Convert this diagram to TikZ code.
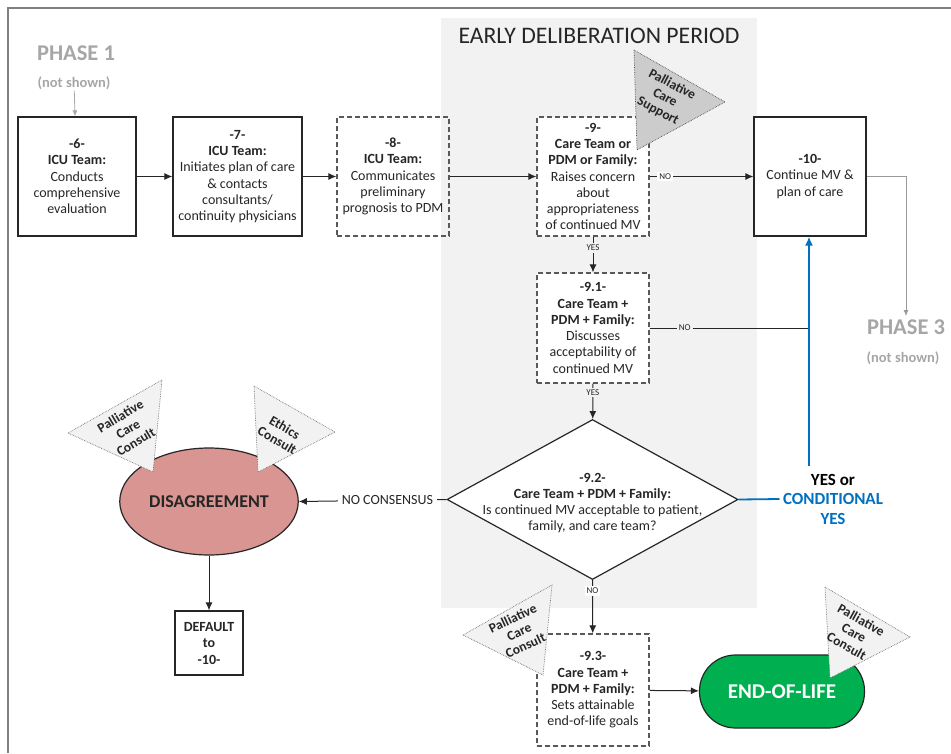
\documentclass[tikz,border=0pt]{standalone}
\usepackage{fontspec}
\setmainfont{Carlito}
\usepackage{tikz}
\usetikzlibrary{shapes.geometric, arrows.meta}
\definecolor{bgray}{HTML}{F2F2F2}
\definecolor{txt}{HTML}{262626}
\definecolor{phgray}{HTML}{A6A6A6}
\definecolor{mvblue}{HTML}{0070C0}
\definecolor{eolgreen}{HTML}{00B050}
\definecolor{disrose}{HTML}{D99591}
\tikzstyle{stepbox}=[draw=txt, line width=1.2pt, rectangle, align=center, text=txt, font=\fontsize{14}{16.3}\selectfont, minimum width=112pt, minimum height=119pt, inner sep=2pt]
\tikzstyle{dashbox}=[stepbox, draw=black!65, dash pattern=on 5pt off 3pt]
\tikzstyle{arr}=[line width=1pt, draw=txt, -{Latex[length=8pt,width=7pt]}]
\tikzstyle{lbl}=[font=\fontsize{9}{10}\selectfont, text=txt, inner sep=2pt]
\tikzstyle{tri}=[fill=bgray, draw=black!55, densely dotted, line width=0.7pt]
\tikzstyle{tritext}=[font=\bfseries\fontsize{13.5}{15}\selectfont, align=center, text=txt, inner sep=0pt]

\begin{document}
\begin{tikzpicture}[x=1pt, y=-1pt]
        \useasboundingbox (0,0) rectangle (951,753);
        \draw[line width=2pt, draw=black!50] (8,753) -- (8,8) -- (951,8);
        \fill[bgray] (441,18) rectangle (757,608);
        \node[text=txt, font=\fontsize{23.7}{26}\selectfont] (title) at (599,36) {EARLY DELIBERATION PERIOD};

        \node[text=phgray, font=\bfseries\fontsize{22.5}{24}\selectfont] (p1) at (76,53) {PHASE 1};
        \node[text=phgray, font=\bfseries\fontsize{14.5}{16}\selectfont, inner sep=1pt] (p1note) at (74,83) {(not shown)};
        \node[text=phgray, font=\bfseries\fontsize{22.5}{24}\selectfont] (p3) at (906,327) {PHASE 3};
        \node[text=phgray, font=\bfseries\fontsize{14.5}{16}\selectfont] (p3note) at (903,358) {(not shown)};

        \node[stepbox, minimum width=118pt] (b6) at (77,176.5) {\textbf{-6-}\\\textbf{ICU Team:}\\Conducts\\comprehensive\\evaluation};
        \node[stepbox, minimum width=129pt] (b7) at (237.5,176.5) {\textbf{-7-}\\\textbf{ICU Team:}\\Initiates plan of care\\\& contacts\\consultants/\\continuity physicians};
        \node[dashbox] (b8) at (393,176.5) {\textbf{-8-}\\\textbf{ICU Team:}\\Communicates\\preliminary\\prognosis to PDM};
        \node[dashbox, fill=white] (b9) at (593,176.5) {\textbf{-9-}\\\textbf{Care Team or}\\\textbf{PDM or Family:}\\Raises concern\\about\\appropriateness\\of continued MV};
        \node[stepbox, fill=white] (b10) at (810,176.5) {\textbf{-10-}\\Continue MV \&\\plan of care};
        \node[dashbox, fill=white, minimum height=110pt] (b91) at (593,328) {\textbf{-9.1-}\\\textbf{Care Team +}\\\textbf{PDM + Family:}\\Discusses\\acceptability of\\continued MV};
        \node[draw=txt, line width=1.2pt, fill=white, diamond, minimum width=291pt, minimum height=160pt, inner sep=0pt] (d) at (592.5,499.5) {};
        \node[align=center, text=txt, font=\fontsize{14}{16.3}\selectfont] (dtext) at (592.5,503) {\textbf{-9.2-}\\\textbf{Care Team + PDM + Family:}\\Is continued MV acceptable to patient,\\family, and care team?};
        \node[dashbox, fill=white, minimum height=112pt] (b93) at (593,690) {\textbf{-9.3-}\\\textbf{Care Team +}\\\textbf{PDM + Family:}\\Sets attainable\\end-of-life goals};

        \node[ellipse, draw=txt, line width=1.2pt, fill=disrose, minimum width=158pt, minimum height=107pt, text=txt, font=\bfseries\fontsize{18}{20}\selectfont] (dis) at (209,501.5) {DISAGREEMENT};
        \node[stepbox, minimum width=68pt, minimum height=64pt, font=\bfseries\fontsize{14}{16.5}\selectfont] (def) at (209,643) {DEFAULT\\to\\-10-};
        \node[rectangle, rounded corners=36pt, draw=txt, line width=1.2pt, fill=eolgreen, minimum width=165pt, minimum height=73pt, text=white, font=\bfseries\fontsize{21}{23}\selectfont] (eol) at (782,691.5) {END-OF-LIFE};

        \node[align=center, font=\bfseries\fontsize{17}{19.5}\selectfont] (cy) at (833,499) {YES or\\\textcolor{mvblue}{CONDITIONAL}\\\textcolor{mvblue}{YES}};
        \coordinate (cytop) at (809,466);
        \coordinate (j91) at (809,328);

        \draw[fill=black!20, draw=black!70, densely dotted, line width=0.7pt] (634,50) -- (725,102) -- (637,150) -- cycle;
        \node[tritext, rotate=-28] (supp) at (665,98) {Palliative\\Care\\Support};
        \draw[tri] (68,433) -- (162,380) -- (153,472) -- cycle;
        \node[tritext, rotate=31] (pc1) at (128,429) {Palliative\\Care\\Consult};
        \draw[tri] (254,386) -- (335,432) -- (258,472) -- cycle;
        \node[tritext, rotate=-30] (eth) at (281,434) {Ethics\\Consult};
        \draw[tri] (463,635) -- (552,585) -- (543,675) -- cycle;
        \node[tritext, rotate=25] (pc2) at (519,632) {Palliative\\Care\\Consult};
        \draw[tri] (825,587) -- (910,637) -- (830,678) -- cycle;
        \node[tritext, rotate=-29] (pc3) at (854,633) {Palliative\\Care\\Consult};

        \draw[phgray, line width=0.8pt, -{Latex[length=6pt,width=5pt]}] (p1note) -- (b6);
        \draw[black!40, line width=0.8pt, -{Latex[length=6pt,width=5pt]}] (b10.east) -| (p3.north);
        \draw[arr] (b6) -- (b7);
        \draw[arr] (b7) -- (b8);
        \draw[arr] (b8) -- (b9);
        \draw[arr] (b9) -- node[lbl, fill=white, pos=0.15] {NO} (b10);
        \draw[arr] (b9) -- node[lbl, fill=bgray, pos=0.32] {YES} (b91);
        \draw[arr] (b91) -- node[lbl, fill=bgray, pos=0.25] {YES} (d);
        \draw[line width=1pt, draw=txt] (b91) -- node[lbl, fill=bgray, pos=0.22] {NO} (j91);
        \draw[line width=1.8pt, mvblue, -{Latex[length=9pt,width=8pt]}] (cytop) -- (cytop |- b10.south);
        \draw[line width=1.8pt, mvblue] (d.east) -- (cy.west);
        \draw[arr] (d.west) -- node[fill=white, text=txt, font=\fontsize{14}{16}\selectfont, pos=0.40, inner sep=4pt] {NO CONSENSUS} (dis.east);
        \draw[arr] (dis) -- (def);
        \draw[arr] (d.south) -- node[lbl, fill=white, pos=0.2] {NO} (b93);
        \draw[arr] (b93) -- (eol);
    \end{tikzpicture}
\end{document}
